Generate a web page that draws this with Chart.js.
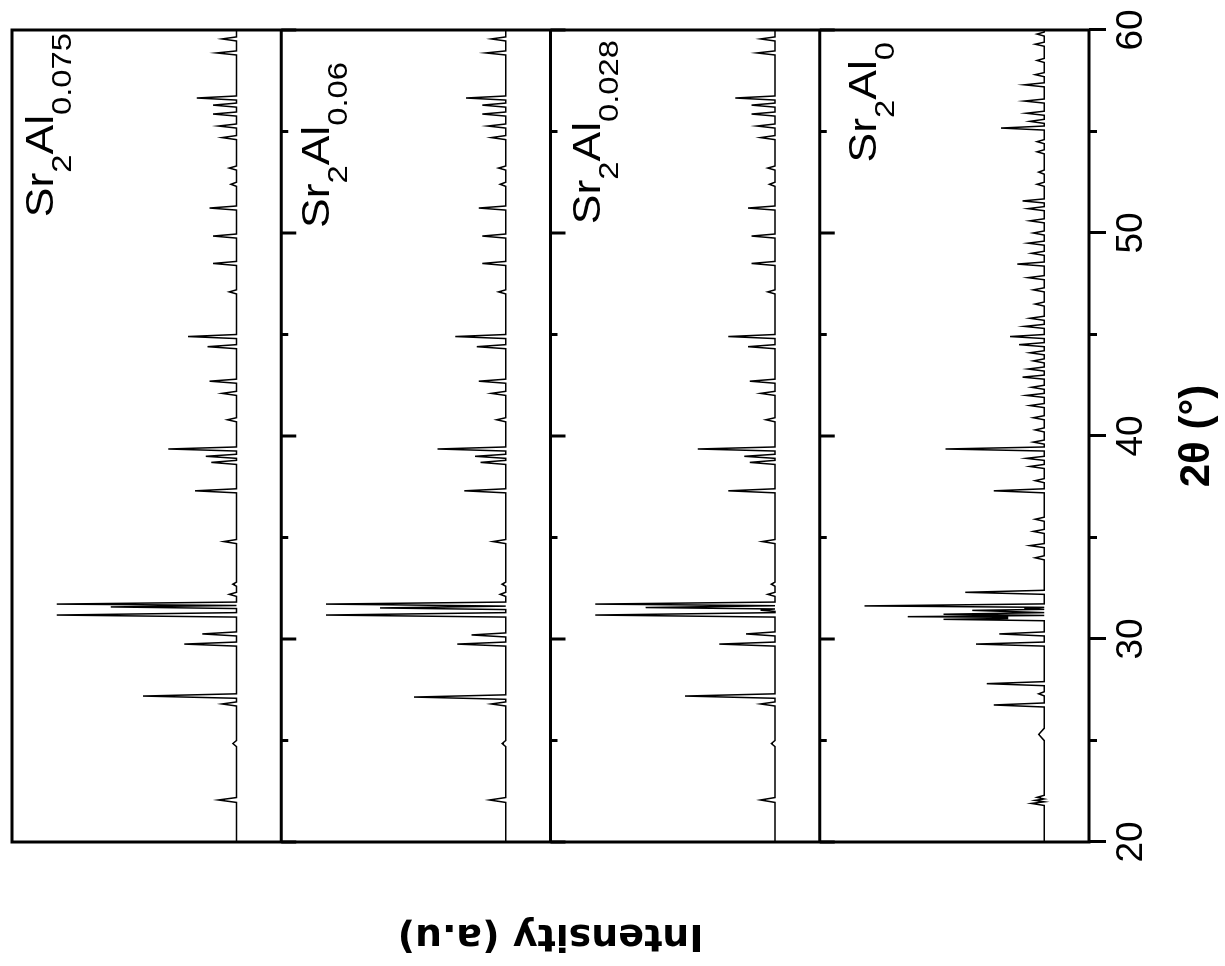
<!DOCTYPE html>
<html>
<head>
<meta charset="utf-8">
<script src="https://cdn.jsdelivr.net/npm/chart.js@4.4.1/dist/chart.umd.min.js"></script>
<style>
  html, body { margin: 0; padding: 0; background: #fff; overflow: hidden; }
  /* the figure is built upright and turned a quarter turn, like the scan */
  #wrap { position: absolute; left: 0; top: 0; width: 966px; height: 1225px;
          transform-origin: 0 0; transform: translateY(966px) rotate(-90deg); }
</style>
</head>
<body>
<div id="wrap"><canvas id="xrd" width="966" height="1225"></canvas></div>
<script>
// 2-theta tick labels
const majorTicks = [20, 30, 40, 50, 60];
const minorTicks = [25, 35, 45, 55];

// panel names, top to bottom: [main, subscript, main, subscript]
const panelNames = [
	['Sr', '2', 'Al', '0.075'],
	['Sr', '2', 'Al', '0.06'],
	['Sr', '2', 'Al', '0.028'],
	['Sr', '2', 'Al', '0'],
];

// patterns: [2theta, intensity (0 = background, 100 = strongest)]
const sr075 = [
	[20, 0], [21.95, 0], [22.07, 10], [22.19, 0], [24.7, 0], [24.85, 2], [25.0, 0],
	[26.7, 0], [26.8, 8], [26.9, 0], [27.08, 0], [27.19, 52], [27.3, 0],
	[29.65, 0], [29.75, 29], [29.85, 0], [30.15, 0], [30.25, 19], [30.35, 0],
	[31.08, 0], [31.18, 100], [31.3, 0], [31.5, 0], [31.58, 70], [31.65, 0], [31.72, 100], [31.82, 0],
	[32.1, 0], [32.2, 4], [32.3, 0], [32.6, 0], [32.7, 2], [32.8, 0],
	[34.7, 0], [34.8, 7], [34.9, 0], [37.2, 0], [37.3, 23], [37.4, 0],
	[38.6, 0], [38.7, 14], [38.8, 0], [38.9, 0], [39.0, 17], [39.1, 0], [39.26, 0], [39.36, 38], [39.46, 0],
	[40.7, 0], [40.8, 5], [40.9, 0], [42.0, 0], [42.1, 8], [42.2, 0], [42.6, 0], [42.7, 15], [42.8, 0],
	[44.3, 0], [44.4, 16], [44.5, 0], [44.8, 0], [44.9, 27], [45.0, 0],
	[47.0, 0], [47.1, 4], [47.2, 0], [48.4, 0], [48.5, 13], [48.6, 0], [49.75, 0], [49.85, 13], [49.95, 0],
	[51.13, 0], [51.23, 15], [51.33, 0], [52.3, 0], [52.4, 3], [52.5, 0], [53.1, 0], [53.2, 4], [53.3, 0],
	[54.6, 0], [54.7, 8], [54.8, 0], [55.17, 0], [55.27, 10], [55.37, 0], [55.76, 0], [55.86, 13], [55.96, 0],
	[56.2, 0], [56.3, 13], [56.4, 0], [56.55, 0], [56.65, 22], [56.75, 0],
	[58.77, 0], [58.87, 11], [58.97, 0], [59.46, 0], [59.56, 8], [59.66, 0], [60, 0],
];
const sr06 = [
	[20, 0], [21.95, 0], [22.07, 9], [22.19, 0], [24.7, 0], [24.85, 2], [25.0, 0],
	[26.7, 0], [26.8, 8], [26.9, 0], [27.03, 0], [27.14, 51], [27.25, 0],
	[29.65, 0], [29.75, 27], [29.85, 0], [30.1, 0], [30.2, 19], [30.3, 0],
	[31.08, 0], [31.18, 100], [31.3, 0], [31.45, 0], [31.53, 70], [31.62, 0], [31.72, 100], [31.82, 0],
	[32.1, 0], [32.2, 3], [32.3, 0], [32.6, 0], [32.7, 2], [32.8, 0],
	[34.7, 0], [34.8, 7], [34.9, 0], [37.2, 0], [37.3, 23], [37.4, 0],
	[38.6, 0], [38.7, 14], [38.8, 0], [38.9, 0], [39.0, 17], [39.1, 0], [39.26, 0], [39.36, 38], [39.46, 0],
	[40.7, 0], [40.8, 5], [40.9, 0], [42.0, 0], [42.1, 8], [42.2, 0], [42.6, 0], [42.7, 15], [42.8, 0],
	[44.3, 0], [44.4, 16], [44.5, 0], [44.8, 0], [44.9, 28], [45.0, 0],
	[47.0, 0], [47.1, 4], [47.2, 0], [48.4, 0], [48.5, 13], [48.6, 0], [49.75, 0], [49.85, 13], [49.95, 0],
	[51.13, 0], [51.23, 15], [51.33, 0], [52.3, 0], [52.4, 3], [52.5, 0], [53.1, 0], [53.2, 4], [53.3, 0],
	[54.6, 0], [54.7, 8], [54.8, 0], [55.17, 0], [55.27, 10], [55.37, 0], [55.76, 0], [55.86, 13], [55.96, 0],
	[56.2, 0], [56.3, 13], [56.4, 0], [56.55, 0], [56.65, 22], [56.75, 0],
	[58.77, 0], [58.87, 11], [58.97, 0], [59.46, 0], [59.56, 8], [59.66, 0], [60, 0],
];
const sr028 = [
	[20, 0], [21.95, 0], [22.07, 8], [22.19, 0], [24.7, 0], [24.85, 2], [25.0, 0],
	[26.7, 0], [26.8, 8], [26.9, 0], [27.08, 0], [27.19, 50], [27.3, 0],
	[29.65, 0], [29.75, 31], [29.85, 0], [30.15, 0], [30.25, 16], [30.35, 0],
	[31.08, 0], [31.18, 100], [31.3, 0], [31.36, 0], [31.42, 8], [31.48, 0], [31.55, 72], [31.64, 0],
	[31.72, 100], [31.82, 0], [32.1, 0], [32.2, 4], [32.3, 0], [32.6, 0], [32.7, 2], [32.8, 0],
	[34.7, 0], [34.8, 7], [34.9, 0], [37.2, 0], [37.3, 26], [37.4, 0],
	[38.6, 0], [38.7, 14], [38.8, 0], [38.9, 0], [39.0, 17], [39.1, 0], [39.26, 0], [39.36, 43], [39.46, 0],
	[40.7, 0], [40.8, 5], [40.9, 0], [42.0, 0], [42.1, 8], [42.2, 0], [42.6, 0], [42.7, 14], [42.8, 0],
	[44.3, 0], [44.4, 15], [44.5, 0], [44.8, 0], [44.9, 26], [45.0, 0],
	[47.0, 0], [47.1, 4], [47.2, 0], [48.4, 0], [48.5, 13], [48.6, 0], [49.75, 0], [49.85, 13], [49.95, 0],
	[51.13, 0], [51.23, 15], [51.33, 0], [52.3, 0], [52.4, 3], [52.5, 0], [53.1, 0], [53.2, 4], [53.3, 0],
	[54.6, 0], [54.7, 8], [54.8, 0], [55.17, 0], [55.27, 10], [55.37, 0], [55.76, 0], [55.86, 13], [55.96, 0],
	[56.2, 0], [56.3, 13], [56.4, 0], [56.55, 0], [56.65, 22], [56.75, 0],
	[58.77, 0], [58.87, 10], [58.97, 0], [59.46, 0], [59.56, 8], [59.66, 0], [60, 0],
];
const sr0 = [
	[20, 0], [21.8, 0], [21.9, 7], [21.98, 0], [22.05, 5], [22.12, 0], [22.2, 4], [22.3, 0],
	[25.0, 0], [25.3, 3], [25.6, 0], [26.65, 0], [26.75, 28], [26.85, 0], [27.2, 0], [27.3, 3], [27.4, 0],
	[27.7, 0], [27.8, 32], [27.9, 0], [29.65, 0], [29.75, 38], [29.85, 0], [30.15, 0], [30.25, 25], [30.35, 0],
	[30.9, 0], [30.97, 56], [31.01, 20], [31.04, 28], [31.07, 20], [31.1, 76], [31.16, 0], [31.22, 56],
	[31.3, 0], [31.41, 40], [31.46, 0], [31.5, 11], [31.56, 0], [31.63, 100], [31.73, 0],
	[32.2, 0], [32.3, 44], [32.4, 0], [33.9, 0], [34.0, 5], [34.1, 0], [34.5, 0], [34.6, 8], [34.7, 0],
	[35.2, 0], [35.3, 6], [35.4, 0], [35.8, 0], [35.9, 5], [36.0, 0], [37.2, 0], [37.3, 28], [37.4, 0],
	[37.7, 0], [37.8, 5], [37.9, 0], [38.4, 0], [38.5, 8], [38.6, 0], [38.8, 0], [38.9, 10], [39.0, 0],
	[39.26, 0], [39.36, 55], [39.46, 0], [39.6, 0], [39.7, 6], [39.8, 0], [40.2, 0], [40.3, 5], [40.4, 0],
	[40.8, 0], [40.9, 6], [41.0, 0], [41.4, 0], [41.5, 8], [41.6, 0], [41.9, 0], [42.0, 10], [42.1, 0],
	[42.3, 0], [42.4, 7], [42.5, 0], [42.8, 0], [42.9, 12], [43.0, 0], [43.2, 0], [43.3, 9], [43.4, 0],
	[43.6, 0], [43.7, 6], [43.8, 0], [44.0, 0], [44.1, 8], [44.2, 0], [44.4, 0], [44.5, 14], [44.6, 0],
	[44.8, 0], [44.9, 19], [45.0, 0], [45.3, 0], [45.4, 11], [45.5, 0], [45.7, 0], [45.8, 8], [45.9, 0],
	[46.4, 0], [46.5, 5], [46.6, 0], [47.1, 0], [47.2, 6], [47.3, 0], [47.7, 0], [47.8, 9], [47.9, 0],
	[48.37, 0], [48.47, 15], [48.57, 0], [48.9, 0], [49.0, 7], [49.1, 0], [49.4, 0], [49.5, 9], [49.6, 0],
	[49.9, 0], [50.0, 6], [50.1, 0], [50.5, 0], [50.6, 8], [50.7, 0], [51.1, 0], [51.2, 9], [51.3, 0],
	[51.48, 0], [51.58, 12], [51.68, 0], [52.3, 0], [52.4, 4], [52.5, 0], [52.9, 0], [53.0, 3], [53.1, 0],
	[53.9, 0], [54.0, 4], [54.1, 0], [54.4, 0], [54.5, 4], [54.6, 0], [55.07, 0], [55.17, 24], [55.27, 0],
	[55.4, 0], [55.5, 8], [55.6, 0], [55.8, 0], [55.9, 10], [56.0, 0], [56.4, 0], [56.5, 11], [56.6, 0],
	[57.2, 0], [57.3, 11], [57.4, 0], [57.7, 0], [57.8, 5], [57.9, 0], [58.4, 0], [58.5, 4], [58.6, 0],
	[59.2, 0], [59.3, 5], [59.4, 0], [59.7, 0], [59.8, 4], [59.9, 0], [60, 0],
];

const patterns = [sr075, sr06, sr028, sr0];

// each panel owns 150 units of the shared intensity axis; background sits 25 units up
const panelSpan = 150;
const panelCount = 4;
const baseLift = 25;

// where each panel name ends and how far below the panel top its baseline sits
const labelRight = [933, 904, 926, 924];
const labelDrop = [41, 48, 49, 56];

const panelFrame = {
	id: 'panelFrame',
	afterDatasetsDraw( chart ) {
		const { ctx, chartArea: a, scales: { x, y } } = chart;
		ctx.save();
		ctx.strokeStyle = '#000';
		ctx.lineWidth = 3;
		ctx.strokeRect( a.left, a.top, a.right - a.left, a.bottom - a.top );
		ctx.beginPath();
		for ( let i = 1; i < panelCount; i++ ) {
			const py = y.getPixelForValue( i * panelSpan );
			ctx.moveTo( a.left, py );
			ctx.lineTo( a.right, py );
			majorTicks.forEach( ( v ) => {
				const px = x.getPixelForValue( v );
				ctx.moveTo( px, py );
				ctx.lineTo( px, py + 15 );
			} );
			minorTicks.forEach( ( v ) => {
				const px = x.getPixelForValue( v );
				ctx.moveTo( px, py );
				ctx.lineTo( px, py + 7 );
			} );
		}
		minorTicks.forEach( ( v ) => {
			const px = x.getPixelForValue( v );
			ctx.moveTo( px, a.bottom );
			ctx.lineTo( px, a.bottom + 8 );
		} );
		ctx.stroke();
		ctx.restore();
	},
	afterDraw( chart ) {
		const { ctx, scales: { y } } = chart;
		const stretch = 1.17;
		ctx.save();
		ctx.fillStyle = '#000';
		ctx.textBaseline = 'alphabetic';
		ctx.textAlign = 'left';
		panelNames.forEach( ( parts, i ) => {
			const top = y.getPixelForValue( ( panelCount - i ) * panelSpan );
			const fonts = parts.map( ( p, k ) => ( k % 2 ? '28px "Liberation Sans", Arial' : '38px "Liberation Sans", Arial' ) );
			let w = 0;
			parts.forEach( ( p, k ) => { ctx.font = fonts[k]; w += ctx.measureText( p ).width; } );
			ctx.save();
			ctx.translate( labelRight[i], top + labelDrop[i] );
			ctx.scale( stretch, 1 );
			let cx = -w;
			parts.forEach( ( p, k ) => {
				ctx.font = fonts[k];
				ctx.fillText( p, cx, k % 2 ? 18 : 0 );
				cx += ctx.measureText( p ).width;
			} );
			ctx.restore();
		} );
		ctx.restore();
	}
};

const datasets = patterns.map( ( pts, i ) => ( {
	data: pts.map( ( p ) => ( { x: p[0], y: p[1] + ( panelCount - 1 - i ) * panelSpan + baseLift } ) ),
	borderColor: '#000',
	borderWidth: 1.5,
	pointRadius: 0,
	tension: 0,
	fill: false,
} ) );

new Chart( document.getElementById( 'xrd' ), {
	type: 'line',
	data: { datasets: datasets },
	options: {
		responsive: false,
		animation: false,
		events: [],
		layout: { padding: { left: 0, right: 30, top: 12, bottom: 0.8 } },
		plugins: { legend: { display: false }, tooltip: { enabled: false } },
		scales: {
			x: {
				type: 'linear',
				position: 'bottom',
				min: 20,
				max: 60,
				afterBuildTicks: ( axis ) => { axis.ticks = majorTicks.map( ( v ) => ( { value: v } ) ); },
				ticks: {
					autoSkip: false,
					maxRotation: 0,
					padding: 4,
					color: '#000',
					font: { family: '"Liberation Sans", Arial', size: 37 },
				},
				grid: {
					display: true,
					drawOnChartArea: false,
					drawTicks: true,
					tickLength: 17,
					tickWidth: 3,
					tickColor: '#000',
				},
				border: { display: false },
				title: {
					display: true,
					text: '2θ (°)',
					color: '#000',
					font: { family: '"Liberation Sans", Arial', size: 42, weight: 'bold' },
					padding: { top: 13.4, bottom: 2 },
				},
			},
			y: {
				type: 'linear',
				min: 0,
				max: panelCount * panelSpan,
				ticks: { display: false },
				grid: { display: false, drawTicks: false },
				border: { display: false },
				title: {
					display: true,
					text: 'Intensity (a.u)',
					color: '#000',
					font: { family: '"DejaVu Sans"', size: 38, weight: 'bold' },
					padding: { top: 8.2, bottom: 70.2 },
				},
			},
		},
	},
	plugins: [ panelFrame ],
} );
</script>
</body>
</html>
